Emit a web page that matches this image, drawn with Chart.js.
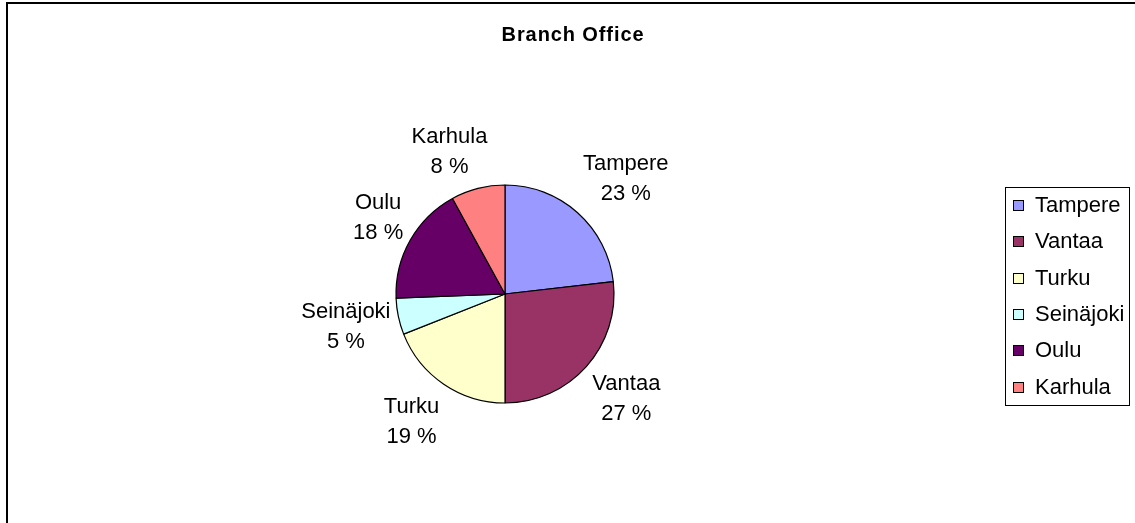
<!DOCTYPE html>
<html><head><meta charset="utf-8">
<script src="https://cdn.jsdelivr.net/npm/chart.js"></script>
<style>html,body{margin:0;padding:0;background:#fff;overflow:hidden}</style>
</head><body>
<canvas id="c" width="1135" height="523"></canvas>
<script>
const chartTitle = 'Branch Office';
const categories = ['Tampere', 'Vantaa', 'Turku', 'Seinäjoki', 'Oulu', 'Karhula'];
const values = [23.2, 26.8, 19.0, 5.4, 17.6, 8.0];
const colors = ['#9999FF', '#993366', '#FFFFCC', '#CCFFFF', '#660066', '#FF8080'];

const FONT = '"Liberation Sans", Arial, sans-serif';

const decor = {
  id: 'decor',
  afterDraw(chart) {
    const ctx = chart.ctx;
    ctx.save();
    // outer frame
    ctx.strokeStyle = '#000';
    ctx.lineWidth = 2;
    ctx.beginPath();
    ctx.moveTo(7, 530); ctx.lineTo(7, 3); ctx.lineTo(1140, 3);
    ctx.stroke();
    // title
    ctx.fillStyle = '#000';
    ctx.font = 'bold 20px ' + FONT;
    if ('letterSpacing' in ctx) ctx.letterSpacing = '0.9px';
    ctx.textAlign = 'center';
    ctx.textBaseline = 'alphabetic';
    ctx.fillText(chartTitle, 573, 41);
    if ('letterSpacing' in ctx) ctx.letterSpacing = '0px';

    // data labels
    const meta = chart.getDatasetMeta(0);
    const total = values.reduce((a, b) => a + b, 0);
    ctx.font = '22px ' + FONT;
    meta.data.forEach((arc, i) => {
      const p = arc.getProps(['x', 'y', 'startAngle', 'endAngle', 'outerRadius'], true);
      const mid = (p.startAngle + p.endAngle) / 2;
      const ux = Math.cos(mid), uy = Math.sin(mid);
      const px = p.x + ux * p.outerRadius, py = p.y + uy * p.outerRadius;
      const g = 8;
      const l1 = categories[i];
      const l2 = Math.round(values[i] / total * 100) + ' %';
      const w = Math.max(ctx.measureText(l1).width, ctx.measureText(l2).width);
      const h = 60;
      const sx = Math.sign(ux) * Math.min(1, Math.abs(ux) * 2.8);
      const sy = Math.sign(uy) * Math.min(1, Math.abs(uy) * 1.3);
      const cx = px + g * ux + sx * w / 2;
      const cy = py + g * uy + sy * h / 2;
      ctx.fillText(l1, cx, cy - 15 + 7);
      ctx.fillText(l2, cx, cy + 15 + 7);
    });

    // legend
    ctx.lineWidth = 1;
    ctx.strokeStyle = '#000';
    ctx.strokeRect(1005.5, 187.5, 124, 218);
    ctx.textAlign = 'left';
    categories.forEach((c, i) => {
      const y = Math.round(205 + i * 36.3);
      ctx.fillStyle = colors[i];
      ctx.fillRect(1013, y - 5, 10, 10);
      ctx.strokeRect(1013.5, y - 4.5, 10, 10);
      ctx.fillStyle = '#000';
      ctx.fillText(c, 1035, y + 7);
    });
    ctx.restore();
  }
};

new Chart(document.getElementById('c'), {
  type: 'pie',
  data: {
    labels: categories,
    datasets: [{
      data: values,
      backgroundColor: colors,
      borderColor: '#000',
      borderWidth: 1.2,
      hoverOffset: 0,
      radius: 109
    }]
  },
  options: {
    responsive: false,
    animation: false,
    events: [],
    layout: { padding: { left: 355, right: 480, top: 144, bottom: 79 } },
    plugins: { legend: { display: false }, title: { display: false }, tooltip: { enabled: false } }
  },
  plugins: [decor]
});
</script>
</body></html>
